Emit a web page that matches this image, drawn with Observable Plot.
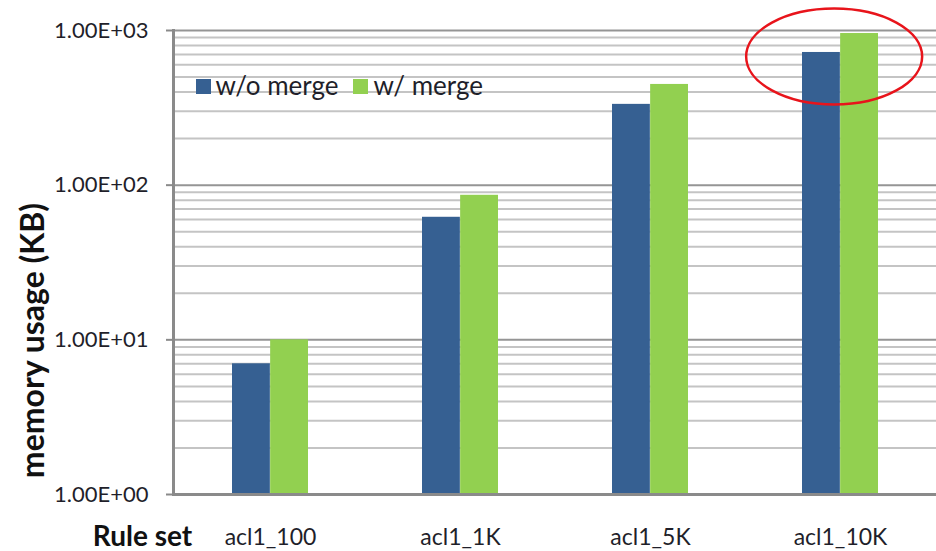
<!DOCTYPE html>
<html><head><meta charset="utf-8">
<script src="https://cdn.jsdelivr.net/npm/d3@7"></script>
<script src="https://cdn.jsdelivr.net/npm/@observablehq/plot@0.6"></script>
<style>body{margin:0;background:#fff;font-family:Lato,sans-serif;} svg{display:block}</style>
</head><body><div id="chart"></div>
<script>
const categories = ["acl1_100", "acl1_1K", "acl1_5K", "acl1_10K"];
const series = ["w/o merge", "w/ merge"];
const withoutMerge = [7.0, 62, 333, 721];
const withMerge = [10.0, 86, 448, 956];
const yMajor = [1, 10, 100, 1000];
const yTickLabels = ["1.00E+00", "1.00E+01", "1.00E+02", "1.00E+03"];
const minorSteps = [2, 3, 4, 5, 6, 7, 8, 9];
const colors = ["#366092", "#92D050"];
const highlight = "acl1_10K";

const W = 936, H = 551, ML = 173, MR = 0, MT = 30, MB = 57;
const padIn = 0.6, padOut = 0.3;
const step = (W - ML - MR) / (categories.length - padIn + 2 * padOut);
const bw = step * (1 - padIn);

const yMinor = yMajor.slice(0, -1).flatMap(d => minorSteps.map(m => m * d));
const rows = categories.map((c, i) => ({cat: c, wo: withoutMerge[i], w: withMerge[i]}));
const labelOf = new Map(yMajor.map((v, i) => [v, yTickLabels[i]]));

const chart = Plot.plot({
  width: W, height: H,
  marginLeft: ML, marginRight: MR, marginTop: MT, marginBottom: MB,
  style: {fontFamily: "Lato, sans-serif", background: "#fff", color: "#222"},
  x: {type: "band", domain: categories, paddingInner: padIn, paddingOuter: padOut, axis: null},
  y: {type: "log", domain: [1, 1000], axis: null},
  marks: [
    Plot.ruleY(yMinor, {stroke: "#c4c4c4", strokeWidth: 2}),
    Plot.ruleY(yMajor, {stroke: "#959595", strokeWidth: 2}),
    Plot.barY(rows, {x: "cat", y1: 1, y2: "wo", fill: colors[0], insetRight: bw / 2}),
    Plot.barY(rows, {x: "cat", y1: 1, y2: "w", fill: colors[1], insetLeft: bw / 2}),
    Plot.ruleY([1], {stroke: "#8a8a8a", strokeWidth: 3}),
    Plot.frame({anchor: "left", stroke: "#8a8a8a", strokeWidth: 3}),
    Plot.axisY({ticks: yMajor, tickFormat: d => labelOf.get(d), tickSize: 7, tickPadding: 18,
      stroke: "#8a8a8a", strokeWidth: 2, fill: "#1f1f2a", fontSize: 22, label: null}),
    Plot.axisX({tickSize: 0, tickPadding: 34, fill: "#1f1f2a", fontSize: 23, label: null}),
    Plot.text(["memory usage (KB)"], {frameAnchor: "left", rotate: -90, dx: -140, dy: 78,
      textAnchor: "middle", lineAnchor: "middle",
      fontSize: 32, fontWeight: "bold", fill: "#111"}),
    Plot.text(["Rule set"], {frameAnchor: "bottom-left", dx: -31, dy: 43,
      textAnchor: "middle", lineAnchor: "middle",
      fontSize: 28, fontWeight: "bold", fill: "#111"}),
    Plot.dot([series[0]], {frameAnchor: "top-left", dx: 30, dy: 56, symbol: "square",
      r: Math.sqrt(225 / Math.PI), fill: colors[0]}),
    Plot.text([series[0]], {frameAnchor: "top-left", dx: 42, dy: 56, textAnchor: "start",
      lineAnchor: "middle", fontSize: 26, fill: "#1f1f2a"}),
    Plot.dot([series[1]], {frameAnchor: "top-left", dx: 187, dy: 56, symbol: "square",
      r: Math.sqrt(225 / Math.PI), fill: colors[1]}),
    Plot.text([series[1]], {frameAnchor: "top-left", dx: 200, dy: 56, textAnchor: "start",
      lineAnchor: "middle", fontSize: 26, fill: "#1f1f2a"})
  ]
});
document.getElementById("chart").append(chart);

// red highlight ellipse around the tallest group, positioned via the chart's scales
const xs = chart.scale("x"), ys = chart.scale("y");
const i = categories.indexOf(highlight);
const cx = xs.apply(highlight) + bw / 2 - 6;
const cy = (ys.apply(withoutMerge[i]) + ys.apply(withMerge[i])) / 2 + 14;
d3.select(chart).append("ellipse")
  .attr("cx", cx).attr("cy", cy).attr("rx", 88).attr("ry", 48)
  .attr("fill", "none").attr("stroke", "#e8141b").attr("stroke-width", 2.5);
</script>
</body></html>
